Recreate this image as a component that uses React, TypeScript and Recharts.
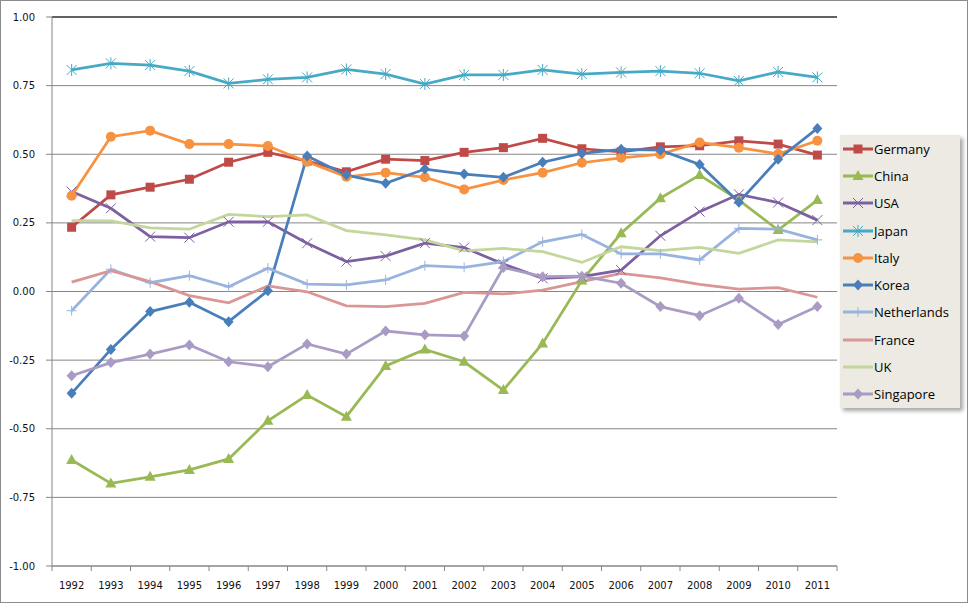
import React from "react";
import { LineChart, Line, XAxis, YAxis, CartesianGrid, ReferenceLine } from "recharts";

const years = [
  "1992", "1993", "1994", "1995", "1996", "1997", "1998", "1999", "2000", "2001",
  "2002", "2003", "2004", "2005", "2006", "2007", "2008", "2009", "2010", "2011",
];

const germany = [0.234, 0.352, 0.38, 0.409, 0.471, 0.507, 0.475, 0.436, 0.482, 0.477, 0.507, 0.524, 0.558, 0.52, 0.509, 0.527, 0.531, 0.549, 0.537, 0.497];
const china = [-0.614, -0.699, -0.675, -0.65, -0.61, -0.471, -0.377, -0.456, -0.271, -0.211, -0.256, -0.359, -0.189, 0.04, 0.212, 0.34, 0.424, 0.333, 0.224, 0.333];
const usa = [0.364, 0.303, 0.2, 0.196, 0.254, 0.254, 0.176, 0.109, 0.129, 0.176, 0.16, 0.1, 0.048, 0.054, 0.078, 0.203, 0.291, 0.354, 0.324, 0.26];
const japan = [0.807, 0.831, 0.825, 0.803, 0.758, 0.773, 0.78, 0.809, 0.792, 0.756, 0.789, 0.789, 0.807, 0.792, 0.798, 0.803, 0.795, 0.767, 0.8, 0.78];
const italy = [0.349, 0.564, 0.586, 0.537, 0.537, 0.53, 0.473, 0.418, 0.433, 0.416, 0.372, 0.406, 0.433, 0.469, 0.487, 0.5, 0.543, 0.524, 0.501, 0.549];
const korea = [-0.371, -0.211, -0.073, -0.039, -0.11, 0.003, 0.494, 0.424, 0.394, 0.446, 0.428, 0.416, 0.471, 0.503, 0.518, 0.515, 0.463, 0.325, 0.482, 0.594];
const netherlands = [-0.07, 0.081, 0.032, 0.058, 0.017, 0.085, 0.027, 0.024, 0.042, 0.094, 0.088, 0.109, 0.181, 0.208, 0.137, 0.137, 0.115, 0.23, 0.227, 0.188];
const france = [0.034, 0.076, 0.036, -0.015, -0.041, 0.02, -0.001, -0.052, -0.055, -0.043, -0.003, -0.009, 0.005, 0.036, 0.066, 0.05, 0.026, 0.009, 0.014, -0.021];
const uk = [0.258, 0.257, 0.232, 0.227, 0.281, 0.273, 0.279, 0.222, 0.206, 0.188, 0.148, 0.157, 0.145, 0.106, 0.163, 0.149, 0.161, 0.139, 0.188, 0.181];
const singapore = [-0.307, -0.259, -0.228, -0.195, -0.256, -0.274, -0.191, -0.228, -0.144, -0.158, -0.162, 0.087, 0.054, 0.056, 0.03, -0.055, -0.088, -0.025, -0.12, -0.055];

const yTicks = [-1, -0.75, -0.5, -0.25, 0, 0.25, 0.5, 0.75, 1];

const seriesList = [
  { key: "Germany", values: germany, color: "#BE4B48", marker: "square" },
  { key: "China", values: china, color: "#98B954", marker: "triangle" },
  { key: "USA", values: usa, color: "#7D60A0", marker: "x" },
  { key: "Japan", values: japan, color: "#46AAC5", marker: "star" },
  { key: "Italy", values: italy, color: "#F69240", marker: "circle" },
  { key: "Korea", values: korea, color: "#4A7EBB", marker: "diamond" },
  { key: "Netherlands", values: netherlands, color: "#98B4DE", marker: "plus" },
  { key: "France", values: france, color: "#DA9694", marker: "none" },
  { key: "UK", values: uk, color: "#C3D69B", marker: "none" },
  { key: "Singapore", values: singapore, color: "#A99BC4", marker: "diamond" },
];

const data = years.map((year, i) => {
  const row: any = { year };
  seriesList.forEach((s) => {
    row[s.key] = s.values[i];
  });
  return row;
});

const Marker = ({ shape, color, cx, cy }: any) => {
  if (cx == null || cy == null) return null;
  switch (shape) {
    case "square":
      return <rect x={cx - 4.5} y={cy - 4.5} width={9} height={9} fill={color} />;
    case "triangle":
      return <polygon points={`${cx},${cy - 6} ${cx + 5.5},${cy + 4} ${cx - 5.5},${cy + 4}`} fill={color} />;
    case "x":
      return (
        <path
          d={`M${cx - 5},${cy - 5}L${cx + 5},${cy + 5}M${cx + 5},${cy - 5}L${cx - 5},${cy + 5}`}
          stroke={color}
          strokeWidth={1}
        />
      );
    case "star":
      return (
        <path
          d={`M${cx - 5},${cy - 5}L${cx + 5},${cy + 5}M${cx + 5},${cy - 5}L${cx - 5},${cy + 5}M${cx},${cy - 6}L${cx},${cy + 6}`}
          stroke={color}
          strokeWidth={1}
        />
      );
    case "circle":
      return <circle cx={cx} cy={cy} r={5} fill={color} />;
    case "diamond":
      return <polygon points={`${cx},${cy - 5.5} ${cx + 5},${cy} ${cx},${cy + 5.5} ${cx - 5},${cy}`} fill={color} />;
    case "plus":
      return (
        <path
          d={`M${cx - 5},${cy}L${cx + 5},${cy}M${cx},${cy - 5}L${cx},${cy + 5}`}
          stroke={color}
          strokeWidth={1}
        />
      );
    default:
      return null;
  }
};

// year label plus a tick mark on the right edge of each category band
const YearTick = (props: any) => {
  const { x, y, payload, index } = props;
  const half = payload && payload.offset ? payload.offset : 785 / 40;
  return (
    <g>
      {index === 0 && <line x1={x - half} x2={x - half} y1={y} y2={y + 5} stroke="#868686" />}
      <line x1={x + half} x2={x + half} y1={y} y2={y + 5} stroke="#868686" />
      <text x={x} y={y + 23} textAnchor="middle" fontSize={10} fill="#111" fontFamily="DejaVu Sans">
        {payload.value}
      </text>
    </g>
  );
};

const LegendBox = () => (
  <div
    style={{
      position: "absolute",
      left: 840,
      top: 135,
      width: 120,
      height: 273,
      background: "#ECEAE3",
      boxShadow: "3px 3px 4px rgba(0,0,0,0.35)",
      fontFamily: "'Open Sans', sans-serif",
      fontSize: 13,
      color: "#000",
    }}
  >
    {seriesList.map((s) => (
      <div key={s.key} style={{ height: 27.3, display: "flex", alignItems: "center" }}>
        <svg width={34} height={14} style={{ flex: "none" }}>
          <line x1={3} x2={33} y1={7} y2={7} stroke={s.color} strokeWidth={3} />
          <Marker shape={s.marker} color={s.color} cx={18} cy={7} />
        </svg>
        <span style={{ marginLeft: 0, lineHeight: "14px" }}>{s.key}</span>
      </div>
    ))}
  </div>
);

const App = () => {
  return (
    <div style={{ position: "absolute", left: 0, top: 0, width: 968, height: 603, background: "#fff" }}>
      <LineChart width={968} height={603} data={data} margin={{ top: 17, right: 131, bottom: 0, left: 0 }}>
        <CartesianGrid vertical={false} stroke="#868686" strokeWidth={1} />
        <XAxis
          dataKey="year"
          scale="band"
          height={37}
          stroke="#868686"
          tickLine={false}
          tickSize={0}
          tickMargin={0}
          interval={0}
          tick={<YearTick />}
        />
        <YAxis
          width={52}
          domain={[-1, 1]}
          ticks={yTicks}
          stroke="#868686"
          tickSize={6}
          tickMargin={11}
          tick={{ fill: "#111", fontSize: 10, fontFamily: "DejaVu Sans" }}
          tickFormatter={(v: number) => v.toFixed(2)}
          interval={0}
        />
        <YAxis
          yAxisId="right"
          orientation="right"
          width={0}
          domain={[-1, 1]}
          stroke="#000"
          tick={false}
          tickLine={false}
        />
        <ReferenceLine y={1} stroke="#000" strokeWidth={1} />
        {seriesList.map((s) => (
          <Line
            key={s.key}
            dataKey={s.key}
            stroke={s.color}
            strokeWidth={2.75}
            isAnimationActive={false}
            dot={
              s.marker === "none"
                ? false
                : (p: any) => (
                    <g key={`${s.key}-${p.index}`}>
                      <Marker shape={s.marker} color={s.color} cx={p.cx} cy={p.cy} />
                    </g>
                  )
            }
            activeDot={false}
          />
        ))}
      </LineChart>
      <LegendBox />
      <div
        style={{
          position: "absolute",
          left: 0,
          top: 0,
          width: 968,
          height: 603,
          boxSizing: "border-box",
          border: "1px solid #8C8C8C",
          pointerEvents: "none",
        }}
      />
    </div>
  );
};

export default App;
